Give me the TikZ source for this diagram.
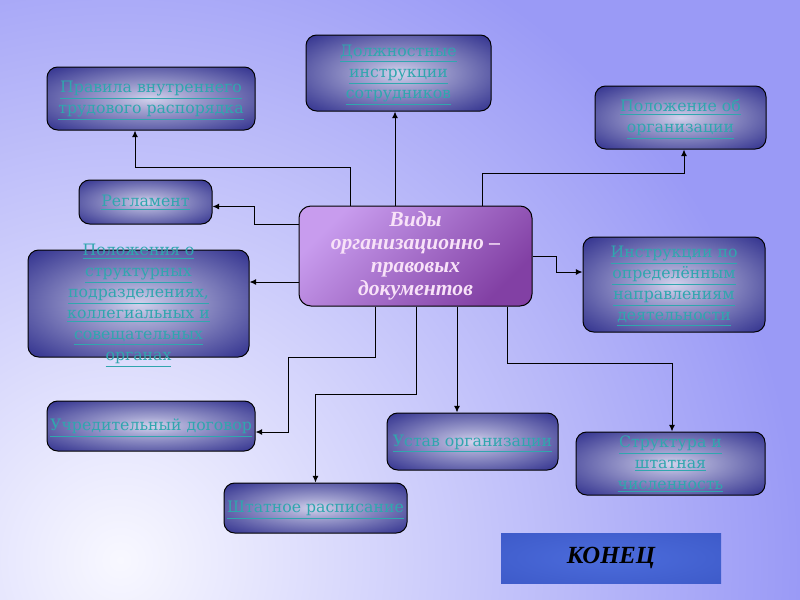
\documentclass[tikz,border=0pt]{standalone}
\usepackage{fontspec}
\setmainfont{Liberation Serif}
\newfontfamily\boxfont{DejaVu Serif}
\usepackage{tikz}
\usetikzlibrary{arrows.meta,calc}

\definecolor{bglight}{RGB}{248,248,255}
\definecolor{bgdark}{RGB}{154,154,246}
\definecolor{boxin}{RGB}{210,210,236}
\definecolor{boxout}{RGB}{46,46,140}
\definecolor{txtteal}{RGB}{48,166,174}
\definecolor{vidlight}{RGB}{200,156,238}
\definecolor{viddark}{RGB}{130,64,164}
\definecolor{vidtext}{RGB}{248,226,248}
\definecolor{konecin}{RGB}{76,108,220}
\definecolor{konecout}{RGB}{58,86,196}

\pgfdeclareradialshading{boxglow}{\pgfpoint{0bp}{0bp}}{color(0bp)=(boxin); color(9bp)=(boxin!72!boxout); color(36bp)=(boxout); color(70bp)=(boxout)}
\pgfdeclareradialshading{konecglow}{\pgfpoint{0bp}{0bp}}{color(0bp)=(konecin); color(45bp)=(konecout); color(70bp)=(konecout)}

\newcommand{\boxlines}[1]{\smash{\makebox[0pt]{\raisebox{-0.3em}{\begin{tabular}{@{}c@{}}#1\end{tabular}}}}}
\newcommand{\ul}[1]{\underline{#1}}

\tikzset{
  docbox/.style 2 args={draw=black, line width=0.75pt, rounded corners=8pt, shading=boxglow,
    minimum width=#1*0.75pt, minimum height=#2*0.75pt, inner sep=0pt,
    text=txtteal, font=\boxfont\fontsize{11.8}{15.75}\selectfont},
  arr/.style={draw=black, line width=0.75pt, -{Latex[length=5pt,width=4.5pt]}}
}

\begin{document}
\begin{tikzpicture}[x=0.75pt,y=0.75pt,yscale=-1,xscale=1]
\useasboundingbox (0,0) rectangle (800,600);

%Background
\begin{scope}
\clip (0,0) rectangle (800,600);
\fill[bgdark] (0,0) rectangle (800,600);
\shade[inner color=bglight, outer color=bgdark] (120,560) circle (680);
\end{scope}

%Shape: Central box
\node[draw=black, line width=0.75pt, rounded corners=9pt, top color=vidlight, bottom color=viddark, shading angle=45,
  minimum width=233*0.75pt, minimum height=100*0.75pt, inner sep=0pt, text=vidtext,
  font=\fontsize{16.2}{17.25}\selectfont\bfseries\itshape] (vid) at (415.5,256)
  {\boxlines{Виды\\ организационно –\\ правовых\\ документов}};

%Shape: Boxes
\node[docbox={208}{63}] (prav) at (151,98.5) {\boxlines{\ul{Правила внутреннего}\\ \ul{трудового распорядка}}};
\node[docbox={185}{76}] (dolzh) at (398.5,73) {\boxlines{\ul{Должностные}\\ \ul{инструкции}\\ \ul{сотрудников}}};
\node[docbox={171}{63}] (polozh) at (680.5,117.5) {\boxlines{\ul{Положение об}\\ \ul{организации}}};
\node[docbox={133}{44}] (regl) at (145.5,202) {\boxlines{\ul{Регламент}}};
\node[docbox={182}{95}] (instr) at (674,284.5) {\boxlines{\ul{Инструкции по}\\ \ul{определённым}\\ \ul{направлениям}\\ \ul{деятельности}}};
\node[docbox={221}{107}] (polstr) at (138.5,303.5) {\boxlines{\ul{Положения о}\\ \ul{структурных}\\ \ul{подразделениях,}\\ \ul{коллегиальных и}\\ \ul{совещательных}\\ \ul{органах}}};
\node[docbox={208}{50}] (uchr) at (151,426) {\boxlines{\ul{Учредительный договор}}};
\node[docbox={171}{57}] (ustav) at (472.5,441.5) {\boxlines{\ul{Устав организации}}};
\node[docbox={189}{63}] (strukt) at (670.5,463.5) {\boxlines{\ul{Структура и}\\ \ul{штатная}\\ \ul{численность}}};
\node[docbox={183}{50}] (shtat) at (315.5,508) {\boxlines{\ul{Штатное расписание}}};

%Shape: End button
\node[shading=konecglow, minimum width=220*0.75pt, minimum height=50*0.75pt, inner sep=0pt,
  font=\fontsize{18.5}{22}\selectfont\bfseries\itshape, text=black] (konec) at (611,558) {КОНЕЦ};

%Connectors
\draw[arr] ($(vid.north)+(-65.5,0)$) -- ++(0,-38) -| ($(prav.south)+(-16,0)$);
\draw[arr] ($(vid.north)+(-20.5,0)$) -- ($(dolzh.south)+(-3.5,0)$);
\draw[arr] ($(vid.north)+(66.5,0)$) -- ++(0,-32) -| ($(polozh.south)+(3.5,0)$);
\draw[arr] ($(vid.west)+(0,-32)$) -- ++(-44,0) |- ($(regl.east)+(0,4.5)$);
\draw[arr] ($(vid.west)+(0,26)$) -- ($(polstr.east)+(0,-21.5)$);
\draw[arr] (vid.east) -- ++(24,0) |- ($(instr.west)+(0,-12.5)$);
\draw[arr] ($(vid.south)+(-40.5,0)$) -- ++(0,51) -- ++(-87,0) |- ($(uchr.east)+(0,6)$);
\draw[arr] ($(vid.south)+(0.5,0)$) -- ++(0,88) -| (shtat.north);
\draw[arr] ($(vid.south)+(41.5,0)$) -- ($(ustav.north)+(-15.5,0)$);
\draw[arr] ($(vid.south)+(91.5,0)$) -- ++(0,57) -| ($(strukt.north)+(1.5,0)$);

\end{tikzpicture}
\end{document}
